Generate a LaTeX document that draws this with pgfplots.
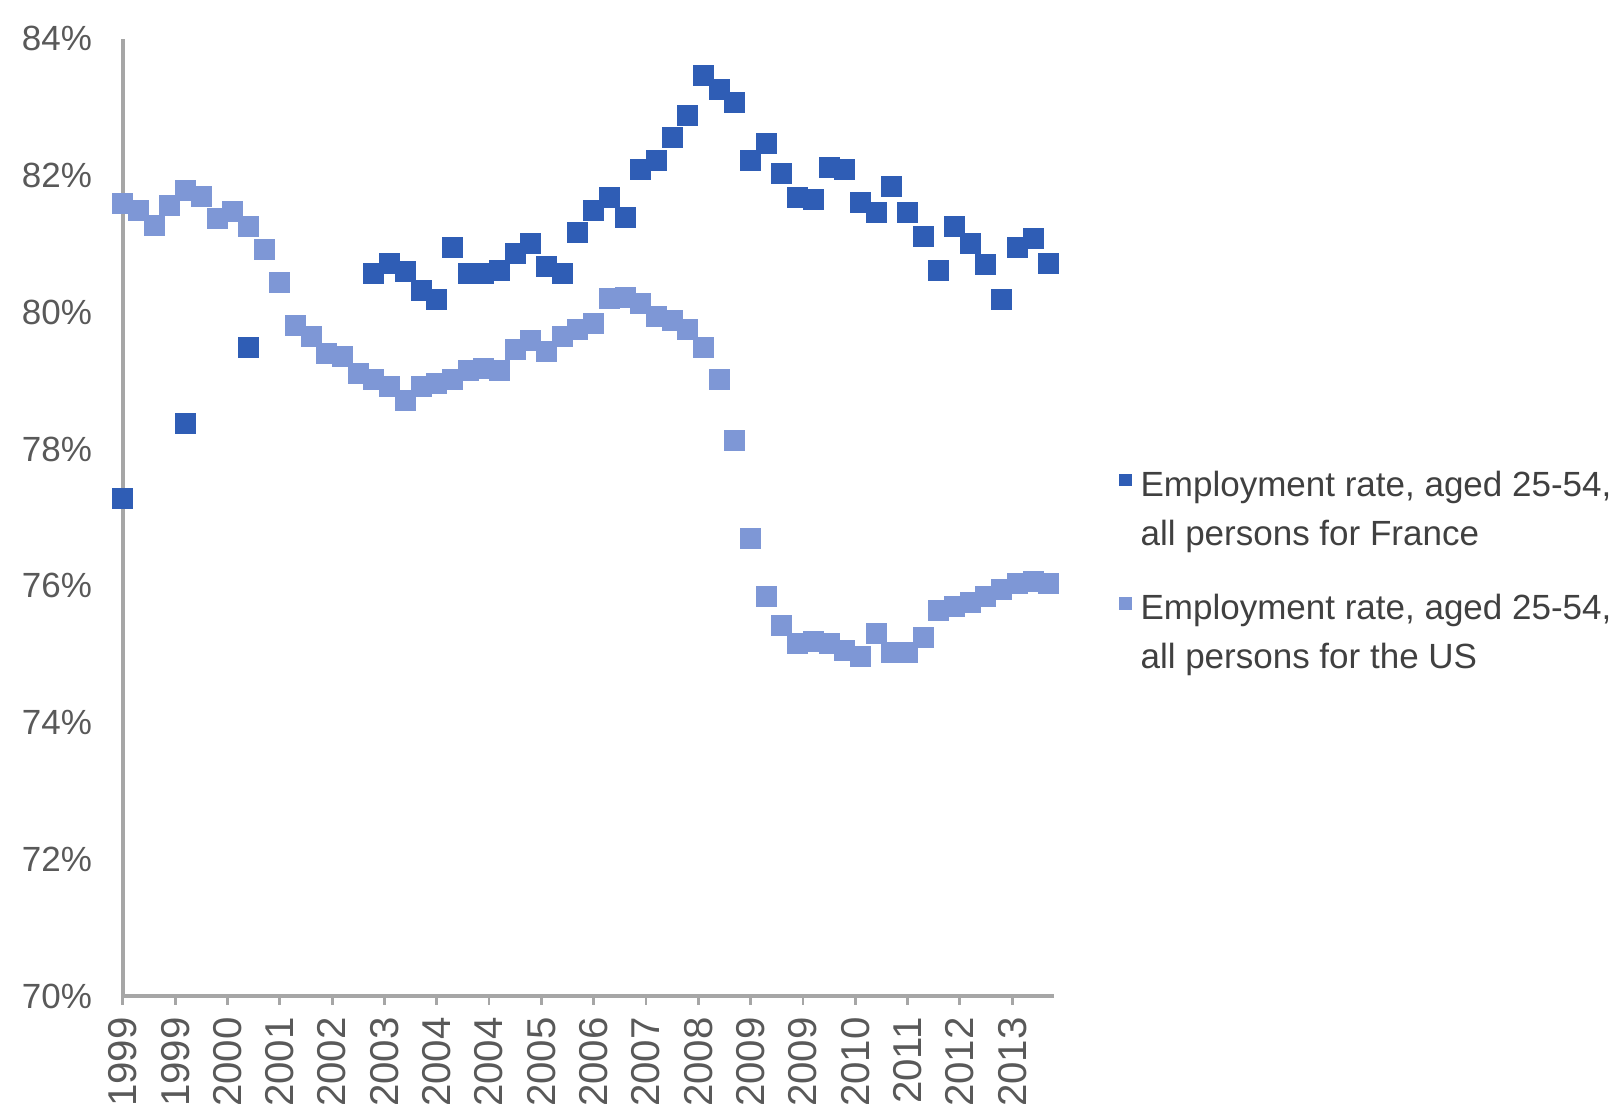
\documentclass[border=0pt]{standalone}
\usepackage{fontspec}
\setmainfont{Liberation Sans}
\usepackage{pgfplots}
\pgfplotsset{compat=1.18}
\usepackage{pgfplotstable}

\definecolor{frblue}{HTML}{2F5DB5}
\definecolor{usblue}{HTML}{7E97D6}
\definecolor{axgray}{HTML}{A6A6A6}
\definecolor{lblgray}{HTML}{595959}
\definecolor{txtgray}{HTML}{404040}

% x = months since January 1999, quarterly observations
\pgfplotstableread{
m v
0 77.28
12 78.37
24 79.49
48 80.57
51 80.71
54 80.59
57 80.32
60 80.18
63 80.95
66 80.57
69 80.57
72 80.61
75 80.86
78 81.01
81 80.66
84 80.57
87 81.17
90 81.49
93 81.68
96 81.39
99 82.08
102 82.22
105 82.56
108 82.88
111 83.46
114 83.25
117 83.06
120 82.22
123 82.47
126 82.03
129 81.68
132 81.64
135 82.12
138 82.08
141 81.61
144 81.45
147 81.83
150 81.45
153 81.10
156 80.61
159 81.25
162 81.00
165 80.69
168 80.18
171 80.95
174 81.08
177 80.71
}\france

\pgfplotstableread{
m v
0 81.59
3 81.49
6 81.27
9 81.56
12 81.78
15 81.69
18 81.37
21 81.47
24 81.25
27 80.91
30 80.44
33 79.81
36 79.64
39 79.40
42 79.35
45 79.10
48 79.01
51 78.91
54 78.71
57 78.91
60 78.96
63 79.01
66 79.15
69 79.18
72 79.15
75 79.45
78 79.59
81 79.42
84 79.64
87 79.74
90 79.83
93 80.20
96 80.22
99 80.13
102 79.93
105 79.88
108 79.74
111 79.49
114 79.01
117 78.13
120 76.69
123 75.84
126 75.42
129 75.16
132 75.18
135 75.16
138 75.06
141 74.96
144 75.30
147 75.03
150 75.03
153 75.25
156 75.64
159 75.69
162 75.76
165 75.84
168 75.94
171 76.03
174 76.06
177 76.03
}\us

\begin{document}
\begin{tikzpicture}
\useasboundingbox (-35.1pt,-34.9pt) rectangle (427.7pt,284.6pt);
\begin{axis}[
  at={(0,0)}, anchor=south west,
  scale only axis, width=266pt, height=273.6pt,
  xmin=0, xmax=178, ymin=70, ymax=84,
  axis x line=bottom, axis y line=left,
  axis line style={-, draw=axgray, line width=1pt},
  xtick={0,10,...,170},
  xticklabels={1999,1999,2000,2001,2002,2003,2004,2004,2005,2006,2007,2008,2009,2009,2010,2011,2012,2013},
  xticklabel style={rotate=90, anchor=east, font=\fontsize{11.5}{13}\selectfont, text=lblgray},
  ytick={70,72,...,84},
  yticklabels={70\%,72\%,74\%,76\%,78\%,80\%,82\%,84\%},
  yticklabel style={font=\fontsize{10}{12}\selectfont, text=lblgray, xshift=-2.8pt},
  tick align=outside,
  major tick length=2.5pt,
  xtick style={draw=axgray, line width=0.8pt},
  ytick style={draw=none},
  clip=false,
  legend cell align=left,
  legend style={at={(1.058,0.56)}, anchor=north west, draw=none, fill=none,
    font=\fontsize{10}{14}\selectfont, text=txtgray,
    nodes={align=left, inner sep=1pt}, row sep=10.5pt, column sep=1.5pt},
  legend image code/.code={\fill[#1, draw=none] (0pt,7.0pt) rectangle (3.6pt,10.6pt);},
]
\addplot[only marks, mark=square*, color=frblue, mark size=2.8pt] table[x=m, y=v] {\france};
\addlegendentry{Employment rate, aged 25-54,\\all persons for France}
\addplot[only marks, mark=square*, color=usblue, mark size=2.8pt] table[x=m, y=v] {\us};
\addlegendentry{Employment rate, aged 25-54,\\all persons for the US}
\end{axis}
\end{tikzpicture}
\end{document}
